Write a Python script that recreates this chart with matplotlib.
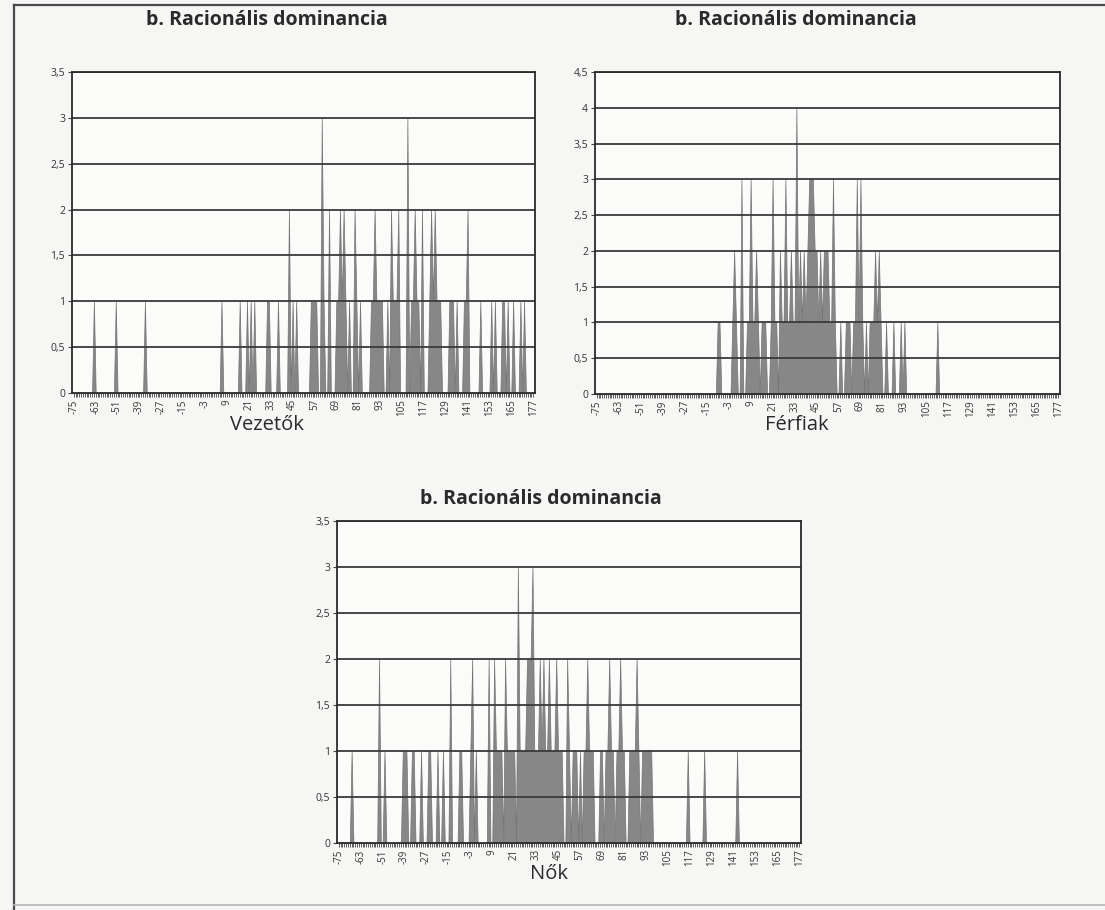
import numpy as np
import matplotlib
matplotlib.use("Agg")
import matplotlib.pyplot as plt
from matplotlib.lines import Line2D

# ---------------- data ----------------
categories = np.arange(-75, 178)          # x categories -75 ... 177
tick_values = np.arange(-75, 178, 12)     # labelled categories

title_text = "b. Racionális dominancia"
group_labels = ["Vezetők", "Férfiak", "Nők"]

# Vezetők: non-zero categories and their values
vez_x = [-64, -52, -36, 6, 16, 20, 22, 24, 31, 32, 37, 43, 45, 47,
         55, 56, 57, 58, 61, 62, 65, 69, 70, 71, 72, 73, 74, 76, 79, 80, 82,
         88, 89, 90, 91, 92, 93, 94, 97, 99, 100, 101, 102, 103,
         108, 110, 111, 112, 113, 114, 116, 120, 121, 122, 123, 124, 125, 126,
         131, 132, 133, 135, 139, 140, 141, 148, 154, 156, 160, 161, 163, 166, 170, 172]
vez_y = [1, 1, 1, 1, 1, 1, 1, 1, 1, 1, 1, 2, 1, 1,
         1, 1, 1, 1, 3, 1, 2, 1, 1, 2, 1, 2, 1, 1, 2, 1, 1,
         1, 1, 2, 1, 1, 1, 1, 1, 2, 1, 1, 1, 2,
         3, 1, 1, 2, 1, 1, 2, 1, 2, 1, 2, 1, 1, 1,
         1, 1, 1, 1, 1, 1, 2, 1, 1, 1, 1, 1, 1, 1, 1, 1]

# Férfiak
fer_x = [-9, -8, -1, 0, 1, 4, 7, 8, 9, 10, 11, 12, 13, 15, 16, 17,
         20, 21, 22, 23, 25, 26, 27, 28, 29, 30, 31, 32, 33, 34, 35, 36, 37, 38, 39,
         40, 41, 42, 43, 44, 45, 46, 47, 48, 49, 50, 51, 52, 53, 54, 55,
         58, 61, 62, 63, 65, 66, 67, 68, 69, 70, 72, 74, 75, 76, 77, 78, 79, 80,
         83, 87, 91, 93, 111]
fer_y = [1, 1, 1, 2, 1, 3, 1, 1, 3, 1, 1, 2, 1, 1, 1, 1,
         1, 3, 1, 1, 2, 1, 1, 3, 1, 1, 2, 1, 1, 4, 1, 2, 1, 2, 1,
         2, 3, 3, 3, 2, 2, 1, 2, 1, 2, 2, 2, 1, 1, 3, 1,
         1, 1, 1, 1, 1, 1, 3, 1, 3, 1, 1, 1, 1, 1, 2, 1, 2, 1,
         1, 1, 1, 1, 1]

# Nők
nok_x = [-68, -53, -50, -40, -39, -38, -35, -34, -30, -26, -25, -21, -18, -14,
         -9, -8, -3, -2, 0, 7, 10, 11, 12, 13, 14, 16, 17, 18, 19, 20, 21,
         23, 24, 25, 26, 27, 28, 29, 30, 31, 32, 33, 34, 35, 36, 37, 38, 39,
         40, 41, 42, 43, 44, 45, 46, 47, 50, 51, 53, 54, 55, 57, 59, 60, 61, 62, 63, 64,
         68, 69, 71, 72, 73, 74, 75, 77, 78, 79, 80, 81, 84, 85, 86, 87, 88, 89,
         91, 92, 93, 94, 95, 96, 116, 125, 143]
nok_y = [1, 2, 1, 1, 1, 1, 1, 1, 1, 1, 1, 1, 1, 2,
         1, 1, 1, 2, 1, 2, 2, 1, 1, 1, 1, 2, 1, 1, 1, 1, 1,
         3, 1, 1, 1, 1, 2, 2, 2, 3, 1, 1, 1, 2, 1, 2, 1, 1,
         2, 1, 1, 1, 2, 1, 1, 1, 2, 1, 1, 1, 1, 1, 1, 1, 2, 1, 1, 1,
         1, 1, 1, 1, 2, 1, 1, 1, 1, 2, 1, 1, 1, 1, 1, 1, 2, 1,
         1, 1, 1, 1, 1, 1, 1, 1, 1]

y_max = [3.5, 4.5, 3.5]


def full_series(xs, ys):
    vals = np.zeros(len(categories))
    for x, y in zip(xs, ys):
        vals[x - categories[0]] = y
    return vals


# ---------------- figure ----------------
W, H = 1105, 910
fig = plt.figure(figsize=(W / 100, H / 100), dpi=100)
fig.patch.set_facecolor("#f6f6f5")

FONT = "Open Sans"
FILL = "#878787"
INK = "#2a2a2a"


def px_axes(left, top, right, bottom):
    return fig.add_axes([left / W, 1 - bottom / H, (right - left) / W, (bottom - top) / H])


def fig_text(x, y, s, **kw):
    fig.text(x / W, 1 - y / H, s, ha="center", va="center", family=FONT, color=INK, **kw)


def yfmt(v):
    return ("%g" % v).replace(".", ",")


def draw_chart(ax, vals, ymax):
    ax.set_facecolor("#fbfbfa")
    ax.fill_between(categories, vals, 0, color=FILL, linewidth=0.5,
                    edgecolor="#747474", zorder=2)
    ax.set_xlim(categories[0] - 1, categories[-1] + 1)
    ax.set_ylim(0, ymax)
    yt = np.arange(0, ymax + 0.01, 0.5)
    ax.set_yticks(yt)
    ax.set_yticklabels([yfmt(v) for v in yt], fontsize=7.5, color="#333333", family=FONT)
    for v in yt[1:]:
        ax.axhline(v, color="#3a3a3a", lw=1.3, zorder=3)
    ax.set_xticks(tick_values)
    ax.set_xticklabels([str(v) for v in tick_values], rotation=90, fontsize=7,
                       color="#333333", family=FONT)
    ax.set_xticks(categories, minor=True)
    ax.tick_params(axis="x", which="both", direction="out", length=3, width=0.6,
                   color="#444444", pad=1.5)
    ax.tick_params(axis="y", which="major", direction="out", length=3, width=0.8,
                   color="#444444", pad=2)
    for s in ax.spines.values():
        s.set_color("#2a2a2a")
        s.set_linewidth(1.3)
        s.set_zorder(4)


ax1 = px_axes(72, 72, 535, 393)
draw_chart(ax1, full_series(vez_x, vez_y), y_max[0])
fig_text(267, 20, title_text, fontsize=14, fontweight="bold")
fig_text(267, 425, group_labels[0], fontsize=14.5)

ax2 = px_axes(595, 72, 1060, 394)
draw_chart(ax2, full_series(fer_x, fer_y), y_max[1])
fig_text(796, 20, title_text, fontsize=14, fontweight="bold")
fig_text(797, 425, group_labels[1], fontsize=14.5)

ax3 = px_axes(337, 521, 801, 843)
draw_chart(ax3, full_series(nok_x, nok_y), y_max[2])
fig_text(541, 499, title_text, fontsize=14, fontweight="bold")
fig_text(549, 874, group_labels[2], fontsize=14.5)

# outer page frame from the scan
fig.add_artist(Line2D([14 / W, 14 / W], [0, 1 - 5 / H], color="#4a4a4a", lw=1.6))
fig.add_artist(Line2D([14 / W, 1], [1 - 5 / H, 1 - 5 / H], color="#4a4a4a", lw=1.6))
fig.add_artist(Line2D([14 / W, 1], [1 - 905 / H, 1 - 905 / H], color="#b5b5b5", lw=1.2))

fig.savefig("out.png", dpi=100, facecolor=fig.get_facecolor())
